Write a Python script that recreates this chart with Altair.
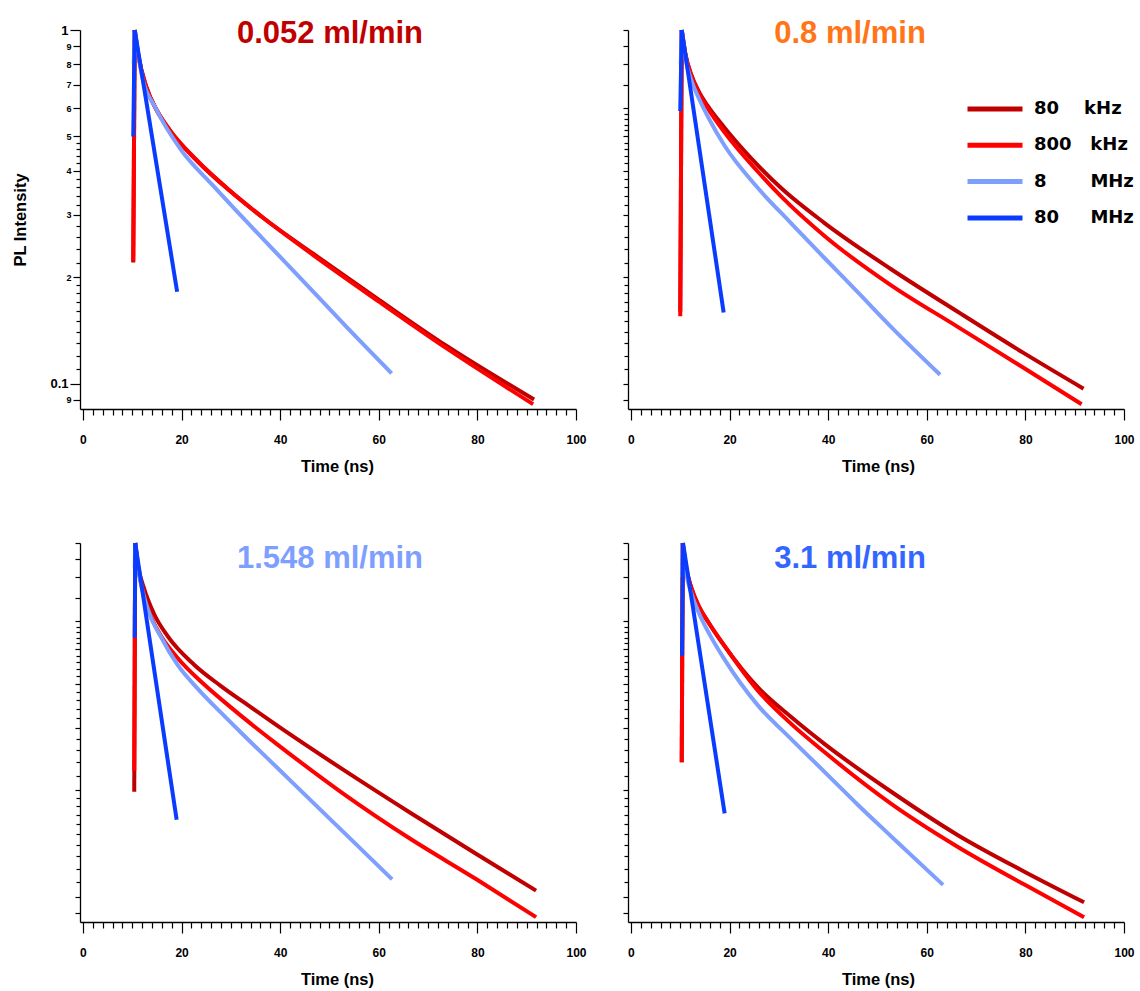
import altair as alt
import pandas as pd

# Repetition rates (series) and their colours
SERIES = ["80 kHz", "800 kHz", "8 MHz", "80 MHz"]
SERIES_COLORS = ["#C00000", "#FF0000", "#7F9FFF", "#0A3CFF"]
NB = "\u00a0"
LEGEND_LABELS = ["80" + NB * 4 + "kHz", "800" + NB * 3 + "kHz", "8" + NB * 7 + "MHz", "80" + NB * 5 + "MHz"]

# Flow rates (panels) and their title colours
FLOWS = ["0.052 ml/min", "0.8 ml/min", "1.548 ml/min", "3.1 ml/min"]
FLOW_COLORS = ["#C00000", "#FF7518", "#7F9FFF", "#3366FF"]

# Normalised PL decays: time (ns) and intensity
t_052_80k = [10.2, 10.5, 11.2, 12.9, 15.0, 17.6, 23.0, 29.8, 36.6, 46.7, 60.2, 73.7, 91.5]
i_052_80k = [0.22, 1.0, 0.853, 0.687, 0.592, 0.521, 0.429, 0.351, 0.294, 0.233, 0.172, 0.128, 0.0902]
t_052_800k = [10.2, 10.5, 11.2, 12.9, 15.0, 17.6, 23.0, 29.8, 36.6, 46.7, 60.2, 73.7, 91.3]
i_052_800k = [0.222, 1.0, 0.853, 0.687, 0.592, 0.521, 0.429, 0.351, 0.294, 0.231, 0.170, 0.126, 0.0875]
t_052_8M = [10.3, 10.5, 11.9, 14.9, 19.7, 26.4, 33.2, 39.9, 46.7, 53.4, 62.6]
i_052_8M = [0.8, 1.0, 0.750, 0.596, 0.462, 0.363, 0.287, 0.229, 0.182, 0.145, 0.107]
t_052_80M = [10.2, 10.5, 19.1]
i_052_80M = [0.5, 1.0, 0.182]

t_08_80k = [10.0, 10.3, 11.0, 12.2, 13.8, 15.5, 18.9, 24.3, 30.4, 39.2, 52.7, 66.2, 79.7, 91.8]
i_08_80k = [0.16, 1.0, 0.861, 0.750, 0.668, 0.612, 0.531, 0.435, 0.358, 0.285, 0.211, 0.160, 0.122, 0.0968]
t_08_800k = [10.0, 10.3, 11.0, 12.2, 13.8, 15.5, 18.9, 25.7, 30.4, 39.2, 52.7, 66.2, 79.7, 91.4]
i_08_800k = [0.155, 1.0, 0.861, 0.746, 0.661, 0.603, 0.515, 0.398, 0.339, 0.262, 0.190, 0.145, 0.1107, 0.0875]
t_08_8M = [10.1, 10.3, 11.2, 12.2, 14.0, 15.8, 18.9, 25.7, 32.4, 39.2, 45.9, 52.7, 62.7]
i_08_8M = [0.8, 1.0, 0.813, 0.724, 0.631, 0.562, 0.473, 0.358, 0.285, 0.227, 0.182, 0.145, 0.106]
t_08_80M = [10.0, 10.3, 18.8]
i_08_80M = [0.59, 1.0, 0.159]

t_1548_80k = [10.4, 10.6, 11.2, 12.4, 14.4, 17.1, 22.6, 28.0, 34.1, 39.2, 52.7, 66.3, 79.8, 91.9]
i_1548_80k = [0.198, 1.0, 0.861, 0.743, 0.631, 0.547, 0.452, 0.394, 0.343, 0.306, 0.229, 0.173, 0.132, 0.104]
t_1548_800k = [10.4, 10.6, 11.2, 12.4, 14.0, 15.8, 19.2, 24.6, 30.0, 34.1, 39.2, 52.7, 66.3, 79.8, 91.9]
i_1548_800k = [0.227, 1.0, 0.851, 0.708, 0.610, 0.547, 0.473, 0.398, 0.343, 0.308, 0.271, 0.196, 0.146, 0.112, 0.0875]
t_1548_8M = [10.5, 10.6, 11.3, 13.1, 15.8, 19.2, 23.3, 28.7, 32.4, 39.2, 45.9, 52.7, 62.7]
i_1548_8M = [0.85, 1.0, 0.832, 0.653, 0.543, 0.452, 0.387, 0.324, 0.288, 0.233, 0.189, 0.153, 0.112]
t_1548_80M = [10.5, 10.6, 19.0]
i_1548_80M = [0.54, 1.0, 0.165]

t_31_80k = [10.3, 10.5, 11.2, 12.2, 13.8, 15.6, 19.0, 25.7, 32.5, 39.3, 52.8, 66.4, 79.9, 91.9]
i_31_80k = [0.24, 1.0, 0.851, 0.750, 0.661, 0.600, 0.511, 0.391, 0.322, 0.270, 0.198, 0.149, 0.1175, 0.0964]
t_31_800k = [10.3, 10.5, 11.2, 12.2, 13.8, 15.6, 19.0, 25.7, 32.5, 39.3, 52.8, 66.4, 79.9, 91.9]
i_31_800k = [0.24, 1.0, 0.851, 0.750, 0.661, 0.600, 0.511, 0.383, 0.308, 0.256, 0.183, 0.138, 0.108, 0.0875]
t_31_8M = [10.4, 10.5, 11.2, 12.2, 14.0, 16.0, 19.0, 25.7, 32.5, 39.3, 46.0, 52.8, 63.3]
i_31_8M = [0.8, 1.0, 0.822, 0.724, 0.624, 0.550, 0.468, 0.348, 0.279, 0.225, 0.182, 0.148, 0.108]
t_31_80M = [10.36, 10.56, 19.0]
i_31_80M = [0.48, 1.0, 0.172]

# Axis ticks
X_TICKS = list(range(0, 101, 2))
Y_TICKS_LABELLED = [1.0, 0.9, 0.8, 0.7, 0.6, 0.5, 0.48, 0.46, 0.44, 0.42, 0.4, 0.38, 0.36,
                    0.34, 0.32, 0.3, 0.28, 0.26, 0.24, 0.22, 0.2, 0.19, 0.18, 0.17, 0.16,
                    0.15, 0.14, 0.13, 0.12, 0.11, 0.1, 0.09]
Y_TICKS_PLAIN = [1.0, 0.9, 0.8, 0.7, 0.6, 0.58, 0.56, 0.54, 0.52] + Y_TICKS_LABELLED[5:]

DECAYS = {
    FLOWS[0]: [(t_052_80k, i_052_80k), (t_052_800k, i_052_800k), (t_052_8M, i_052_8M), (t_052_80M, i_052_80M)],
    FLOWS[1]: [(t_08_80k, i_08_80k), (t_08_800k, i_08_800k), (t_08_8M, i_08_8M), (t_08_80M, i_08_80M)],
    FLOWS[2]: [(t_1548_80k, i_1548_80k), (t_1548_800k, i_1548_800k), (t_1548_8M, i_1548_8M), (t_1548_80M, i_1548_80M)],
    FLOWS[3]: [(t_31_80k, i_31_80k), (t_31_800k, i_31_800k), (t_31_8M, i_31_8M), (t_31_80M, i_31_80M)],
}

# Each decay is split into its rising edge (start -> peak) and its tail (peak -> end)
rows = []
for flow, curves in DECAYS.items():
    for name, (ts, vs) in zip(SERIES, curves):
        for k, (t, v) in enumerate(zip(ts, vs)):
            if k <= 1:
                rows.append({"flow": flow, "series": name, "part": name + " rise", "t": t, "v": v})
            if k >= 1:
                rows.append({"flow": flow, "series": name, "part": name + " tail", "t": t, "v": v})
df = pd.DataFrame(rows)

FONT = "Liberation Sans, Arial, sans-serif"
W, H = 496, 379

legend_expr = " : ".join(
    f"datum.label == '{s}' ? '{lab}'" for s, lab in zip(SERIES, LEGEND_LABELS)
) + " : datum.label"

legend = alt.Legend(
    orient="none", legendX=906, legendY=70,
    symbolType="M-10,0H10", symbolSize=30.25, symbolStrokeWidth=5,
    labelFont="DejaVu Sans", labelFontSize=18, labelFontWeight="bold",
    labelColor="black", labelOffset=30, rowPadding=16.3, labelLimit=300,
    labelExpr=legend_expr,
)

BIG = "abs(datum.value - 1) < 1e-6 || abs(datum.value - 0.1) < 1e-6"
TENTH = "abs(datum.value * 10 - round(datum.value * 10)) < 1e-6 || abs(datum.value - 0.09) < 1e-6"
Y_LABEL_EXPR = (
    "abs(datum.value - 1) < 1e-6 ? '1' : abs(datum.value - 0.1) < 1e-6 ? '0.1' : "
    "abs(datum.value - 0.09) < 1e-6 ? '9' : "
    "abs(datum.value * 10 - round(datum.value * 10)) < 1e-6 ? format(round(datum.value * 10), 'd') : ''"
)


def panel(i):
    flow = FLOWS[i]
    left = i % 2 == 0
    top = i < 2

    x_axis = alt.Axis(
        values=X_TICKS,
        labelExpr="datum.value % 20 == 0 ? datum.label : ''",
        tickSize={"condition": {"test": "datum.value % 20 == 0", "value": 11}, "value": 6},
        labelFont=FONT, labelFontSize=12, labelFontWeight="bold", labelColor="black",
        labelPadding=14, labelOverlap=False, labelFlush=False,
        title="Time (ns)", titleFont=FONT, titleFontSize=16.5, titleFontWeight="bold",
        titleColor="black", titleBaseline="alphabetic", titleY=62,
        titleX=257 if left else 250,
        domainColor="black", tickColor="black", domainWidth=1.3, tickWidth=1.2, grid=False,
    )
    if i == 0:
        y_axis = alt.Axis(
            values=Y_TICKS_LABELLED, labelExpr=Y_LABEL_EXPR, labelOverlap=False, labelFlush=False,
            labelFont=FONT, labelFontWeight="bold", labelColor="black",
            labelFontSize={"condition": {"test": BIG, "value": 13}, "value": 9},
            tickSize={"condition": [{"test": BIG, "value": 10}, {"test": TENTH, "value": 7}], "value": 4},
            labelPadding=2,
            title="PL Intensity", titleFont=FONT, titleFontSize=16.5, titleFontWeight="bold",
            titleColor="black", titleAngle=270, titleBaseline="alphabetic",
            titleX=-55, titleY=H / 2,
            domainColor="black", tickColor="black", domainWidth=1.3, tickWidth=1.2, grid=False,
        )
    else:
        y_axis = alt.Axis(
            values=Y_TICKS_PLAIN, labels=False, title="",
            tickSize={"condition": {"test": TENTH, "value": 5}, "value": 4},
            domainColor="black", tickColor="black", domainWidth=1.3, tickWidth=1.2, grid=False,
        )

    lines = (
        alt.Chart(df[df["flow"] == flow])
        .mark_line(strokeWidth=4, interpolate="monotone", strokeJoin="round", clip=False)
        .encode(
            x=alt.X("t:Q", scale=alt.Scale(domain=[-0.6, 100], nice=False, zero=False), axis=x_axis),
            y=alt.Y("v:Q", scale=alt.Scale(type="log", domain=[0.0848, 1.0], nice=False), axis=y_axis),
            color=alt.Color("series:N", sort=SERIES,
                            scale=alt.Scale(domain=SERIES, range=SERIES_COLORS),
                            legend=legend, title=None),
            detail="part:N",
        )
    )

    # Flow-rate heading, set inside the top of each panel
    heading = (
        alt.Chart(pd.DataFrame({"flow": [flow]}))
        .mark_text(font=FONT, fontSize=31, fontWeight="bold", color=FLOW_COLORS[i],
                   align="center", baseline="alphabetic")
        .encode(text="flow:N",
                x=alt.value(W / 2 + (2 if left else -26)),
                y=alt.value(13.3 if top else 24.8))
    )

    return alt.layer(lines, heading).properties(width=W, height=H)


chart = (
    alt.concat(panel(0), panel(1), panel(2), panel(3), columns=2,
               spacing={"row": 134, "column": 52}, bounds="flush")
    .properties(padding={"left": 12, "top": 18, "right": 2, "bottom": 2}, background="white")
    .configure_view(strokeWidth=0)
)

chart.save("out.html", embed_options={"renderer": "svg", "actions": False})
